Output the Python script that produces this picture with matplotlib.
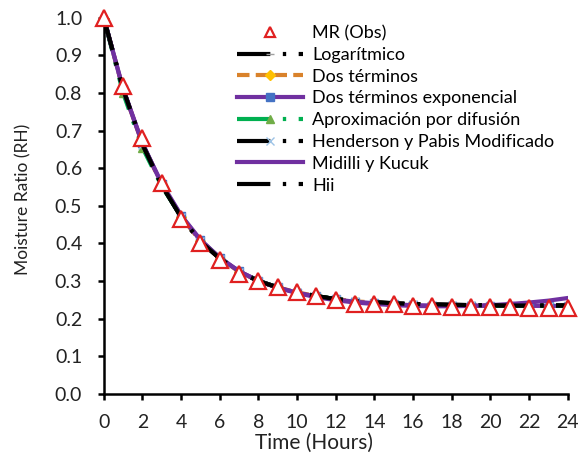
import matplotlib.pyplot as plt
from matplotlib.lines import Line2D

plt.rcParams["font.family"] = ["Lato", "DejaVu Sans"]

hours = list(range(0, 25))
mr_obs = [1.0, 0.82, 0.68, 0.56, 0.465, 0.40, 0.355, 0.32, 0.30, 0.285, 0.27, 0.26, 0.25,
          0.238, 0.238, 0.238, 0.235, 0.235, 0.23, 0.23, 0.23, 0.23, 0.228, 0.228, 0.228]
logaritmico = [1.0, 0.81, 0.665, 0.555, 0.47, 0.405, 0.36, 0.325, 0.30, 0.283, 0.27, 0.26, 0.252,
               0.247, 0.244, 0.241, 0.239, 0.238, 0.237, 0.236, 0.236, 0.235, 0.235, 0.235, 0.235]
dos_terminos = [1.0, 0.81, 0.665, 0.556, 0.471, 0.406, 0.36, 0.325, 0.30, 0.283, 0.27, 0.26, 0.252,
                0.246, 0.243, 0.240, 0.238, 0.237, 0.236, 0.235, 0.235, 0.235, 0.234, 0.234, 0.234]
dos_terminos_exp = [1.0, 0.812, 0.667, 0.557, 0.473, 0.408, 0.362, 0.326, 0.301, 0.283, 0.269, 0.259, 0.251,
                    0.245, 0.241, 0.238, 0.236, 0.235, 0.234, 0.234, 0.234, 0.234, 0.234, 0.234, 0.234]
difusion = [1.0, 0.80, 0.655, 0.552, 0.472, 0.408, 0.362, 0.326, 0.301, 0.283, 0.27, 0.26, 0.252,
            0.246, 0.242, 0.239, 0.237, 0.236, 0.235, 0.235, 0.234, 0.234, 0.234, 0.234, 0.234]
henderson = [1.0, 0.81, 0.663, 0.555, 0.471, 0.406, 0.36, 0.325, 0.30, 0.283, 0.27, 0.26, 0.252,
             0.246, 0.243, 0.240, 0.238, 0.237, 0.236, 0.236, 0.235, 0.235, 0.235, 0.235, 0.235]
midilli = [1.0, 0.81, 0.665, 0.56, 0.475, 0.41, 0.362, 0.326, 0.30, 0.282, 0.268, 0.257, 0.249,
           0.243, 0.239, 0.236, 0.234, 0.233, 0.233, 0.234, 0.236, 0.239, 0.243, 0.248, 0.255]
hii = [1.0, 0.81, 0.664, 0.555, 0.47, 0.405, 0.36, 0.325, 0.30, 0.283, 0.27, 0.26, 0.252,
       0.247, 0.244, 0.241, 0.239, 0.238, 0.237, 0.236, 0.236, 0.235, 0.235, 0.235, 0.235]

fig = plt.figure(figsize=(5.83, 4.58), dpi=100)
ax = fig.add_axes([0.178, 0.14, 0.796, 0.821])

dashdot = (0, (8, 3, 0.8, 3))
lw = 3
ax.plot(hours, logaritmico, color="black", ls=dashdot, lw=lw, marker="_", ms=6,
        mec="#A0A0A0", label="Logarítmico")
ax.plot(hours, dos_terminos, color="#D9822B", ls=(0, (3, 1.5)), lw=lw, marker="D", ms=5,
        mfc="#FFC000", mec="#FFC000", label="Dos términos")
ax.plot(hours, dos_terminos_exp, color="#7030A0", ls="-", lw=lw, marker="s", ms=6,
        mfc="#4472C4", mec="#4472C4", label="Dos términos exponencial")
ax.plot(hours, difusion, color="#00B050", ls=dashdot, lw=lw, marker="^", ms=6,
        mfc="#70AD47", mec="#70AD47", label="Aproximación por difusión")
ax.plot(hours, henderson, color="black", ls=dashdot, lw=lw, marker="x", ms=6,
        mec="#9DC3E6", label="Henderson y Pabis Modificado")
ax.plot(hours, midilli, color="#7030A0", ls="-", lw=lw, label="Midilli y Kucuk")
ax.plot(hours, hii, color="black", ls=dashdot, lw=lw, label="Hii")
ax.plot(hours, mr_obs, ls="none", marker="^", ms=12, mfc="white", mec="#E02020", mew=1.6,
        clip_on=False, zorder=5)

ax.set_xlim(0, 24)
ax.set_ylim(0, 1.0)
ax.set_xticks(range(0, 25, 2))
ax.set_yticks([i / 10 for i in range(11)])
ax.set_yticklabels([f"{i / 10:.1f}" for i in range(11)])
ax.tick_params(labelsize=14, width=1.8, length=4, color="black", labelcolor="#222222")
ax.tick_params(axis="x", pad=10.5)
ax.tick_params(axis="y", pad=11.5)
for side in ("top", "right"):
    ax.spines[side].set_visible(False)
for side in ("left", "bottom"):
    ax.spines[side].set_linewidth(1.8)

ax.set_xlabel("Time (Hours)", fontsize=15, color="#222222")
ax.xaxis.set_label_coords(0.454, -0.104)
ax.set_ylabel("Moisture Ratio (RH)", fontsize=12.5, color="#222222")
ax.yaxis.set_label_coords(-0.155, 0.516)

handles, labels = ax.get_legend_handles_labels()
obs_handle = Line2D([], [], ls="none", marker="^", ms=7, mfc="white", mec="#E02020", mew=1.6)
fig.legend([obs_handle] + handles, ["MR (Obs)"] + labels,
           loc="upper left", bbox_to_anchor=(237 / 583, 1 - 25 / 458), frameon=False,
           fontsize=13, handlelength=3.65, handletextpad=0.5, labelspacing=0.32,
           borderpad=0, borderaxespad=0)

fig.savefig("out.png", dpi=100)
